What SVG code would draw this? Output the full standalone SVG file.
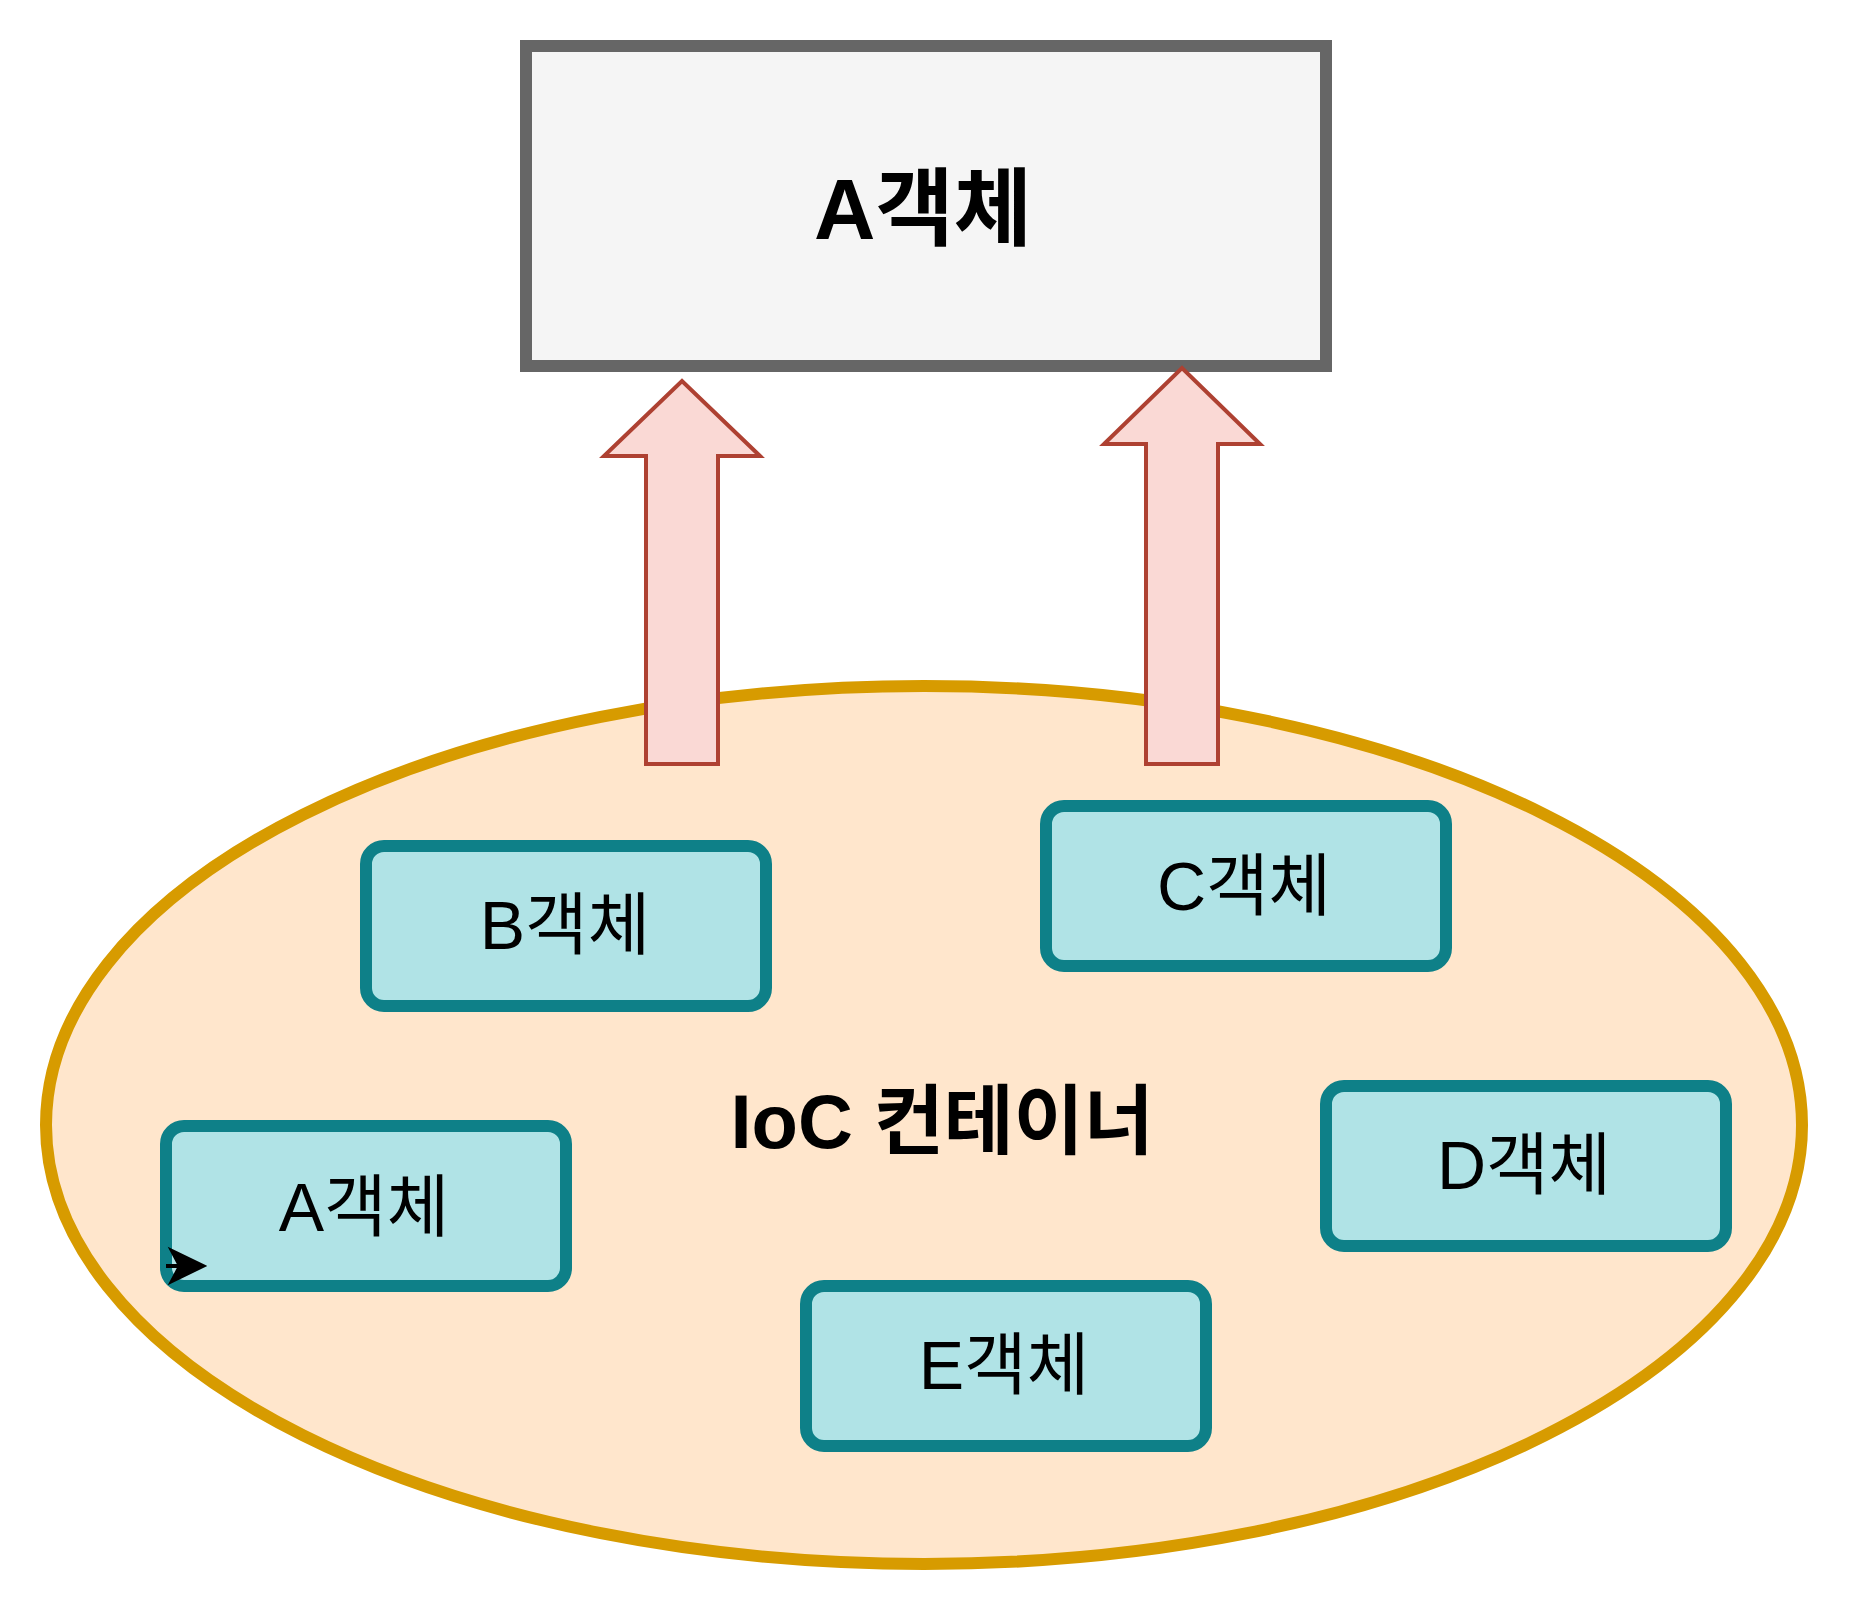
<svg xmlns="http://www.w3.org/2000/svg" width="1852" height="1612" viewBox="0 0 1852 1612">
<style>
.lbl{font-family:"Liberation Sans","Noto Sans CJK KR",sans-serif;fill:#000;text-anchor:middle}
.obj{fill:#b0e3e6;stroke:#0e8088;stroke-width:12}
.big{fill:#fad9d5;stroke:#ae4132;stroke-width:4;stroke-linejoin:miter}
.node{font-size:68px}
</style>
<rect width="1852" height="1612" fill="#ffffff"/>
<g id="container">
<ellipse cx="924" cy="1125" rx="878" ry="439" fill="#ffe6cc" stroke="#d79b00" stroke-width="12"/>
<text class="lbl" x="942" y="1148" font-size="76" font-weight="bold">IoC 컨테이너</text>
</g>
<g id="top-a">
<rect x="526" y="46" width="800" height="320" fill="#f5f5f5" stroke="#666666" stroke-width="12"/>
<text class="lbl" x="923" y="239" font-size="85" font-weight="bold">A객체</text>
</g>
<g id="arrow-left">
<polygon class="big" points="646,764 646,456 604,456 682,381 760,456 718,456 718,764"/>
</g>
<g id="arrow-right">
<polygon class="big" points="1146,764 1146,444 1104,444 1182,368 1260,444 1218,444 1218,764"/>
</g>
<g id="node-b">
<rect class="obj" x="366" y="846" width="400" height="160" rx="18"/>
<text class="lbl node" x="565" y="949">B객체</text>
</g>
<g id="node-c">
<rect class="obj" x="1046" y="806" width="400" height="160" rx="18"/>
<text class="lbl node" x="1244" y="910">C객체</text>
</g>
<g id="node-a">
<rect class="obj" x="166" y="1126" width="400" height="160" rx="18"/>
<text class="lbl node" x="364" y="1231">A객체</text>
</g>
<g id="node-d">
<rect class="obj" x="1326" y="1086" width="400" height="160" rx="18"/>
<text class="lbl node" x="1524" y="1189">D객체</text>
</g>
<g id="node-e">
<rect class="obj" x="806" y="1286" width="400" height="160" rx="18"/>
<text class="lbl node" x="1004" y="1389">E객체</text>
</g>
<g id="connectors">
<line x1="166" y1="1266" x2="182" y2="1266" stroke="#000" stroke-width="4"/>
<path d="M205,1266 L170,1249 L179,1266 L170,1283 Z" fill="#000" stroke="#000" stroke-width="2" stroke-linejoin="miter"/>
</g>
</svg>
